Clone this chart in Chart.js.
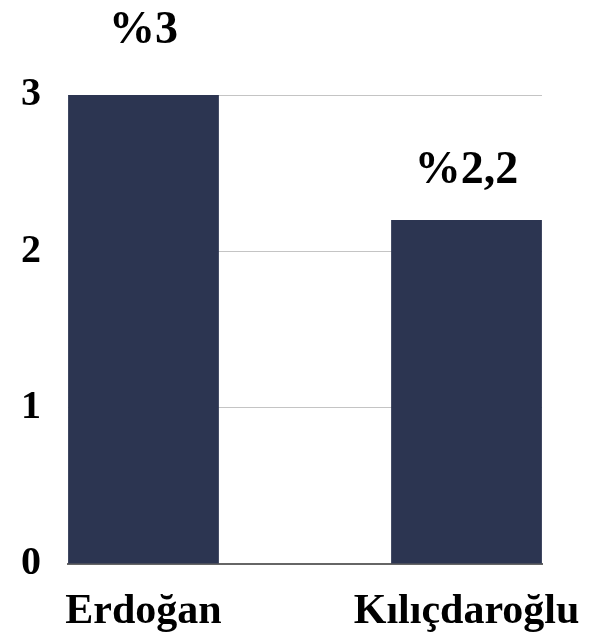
<!DOCTYPE html>
<html>
<head>
<meta charset="utf-8">
<script src="https://cdn.jsdelivr.net/npm/chart.js@4.4.0/dist/chart.umd.min.js"></script>
<style>
    html, body { margin: 0; padding: 0; background: #ffffff; }
    #wrap { width: 595px; height: 636px; position: relative; }
</style>
</head>
<body>
<div id="wrap"><canvas id="myChart"></canvas></div>
<script>
// Veri
const categories = ['Erdoğan', 'Kılıçdaroğlu'];
const values = [3, 2.2];
const valueLabels = ['%3', '%2,2'];
const yTicks = [0, 1, 2, 3];

const serif = '"Liberation Serif", "DejaVu Serif", serif';

// Etiketleri çubukların üstüne yaz
const barLabels = {
    id: 'barLabels',
    afterDatasetsDraw(chart, args, opts) {
        const ctx = chart.ctx;
        const meta = chart.getDatasetMeta(0);
        ctx.save();
        ctx.font = 'bold ' + opts.size + 'px ' + serif;
        ctx.fillStyle = '#000000';
        ctx.textAlign = 'center';
        ctx.textBaseline = 'alphabetic';
        meta.data.forEach((bar, i) => {
            ctx.fillText(valueLabels[i], bar.x, bar.y - opts.offsets[i]);
        });
        ctx.restore();
    },
};

document.addEventListener('DOMContentLoaded', function () {
    // kategori indeksi x üzerinde, çubuklar kenarlara yaslanacak
    const data = {
        datasets: [{
            data: values.map((v, i) => ({ x: i, y: v })),
            backgroundColor: '#2c3551',
            borderWidth: 0,
            barPercentage: 0.4668,
            categoryPercentage: 1.0,
        }],
    };

    const edge = 0.2337;
    const xMin = -edge;
    const xMax = categories.length - 1 + edge;

    const options = {
        responsive: true,
        maintainAspectRatio: false,
        animation: false,
        layout: {
            padding: { top: 95, right: 53, bottom: 0, left: 0 },
        },
        plugins: {
            legend: { display: false },
            tooltip: { enabled: false },
            barLabels: { size: 46, offsets: [52, 37] },
        },
        scales: {
            x: {
                type: 'linear',
                bounds: 'data',
                min: xMin,
                max: xMax,
                offset: false,
                grid: { display: false, drawTicks: false },
                border: { display: true, color: '#666666', width: 2 },
                afterBuildTicks(scale) {
                    scale.ticks = categories.map((c, i) => ({ value: i }));
                    scale.min = xMin;
                    scale.max = xMax;
                },
                ticks: {
                    color: '#000000',
                    padding: 23,
                    autoSkip: false,
                    maxRotation: 0,
                    callback: (v) => categories[v],
                    font: { family: serif, size: 42, weight: 'bold' },
                },
                afterFit(scale) {
                    scale.height = 72;
                    scale.paddingLeft = 0;
                    scale.paddingRight = 0;
                },
            },
            y: {
                min: 0,
                max: 3,
                grid: { color: '#c4c4c4', lineWidth: 1, drawTicks: false },
                border: { display: false },
                afterBuildTicks(scale) {
                    scale.ticks = yTicks.map((v) => ({ value: v }));
                },
                ticks: {
                    color: '#000000',
                    padding: 27,
                    font: { family: serif, size: 40, weight: 'bold' },
                },
                afterFit(scale) {
                    scale.width = 68;
                    scale.paddingTop = 0;
                    scale.paddingBottom = 0;
                },
            },
        },
    };

    const ctx = document.getElementById('myChart').getContext('2d');
    new Chart(ctx, {
        type: 'bar',
        data: data,
        options: options,
        plugins: [barLabels],
    });
});
</script>
</body>
</html>
